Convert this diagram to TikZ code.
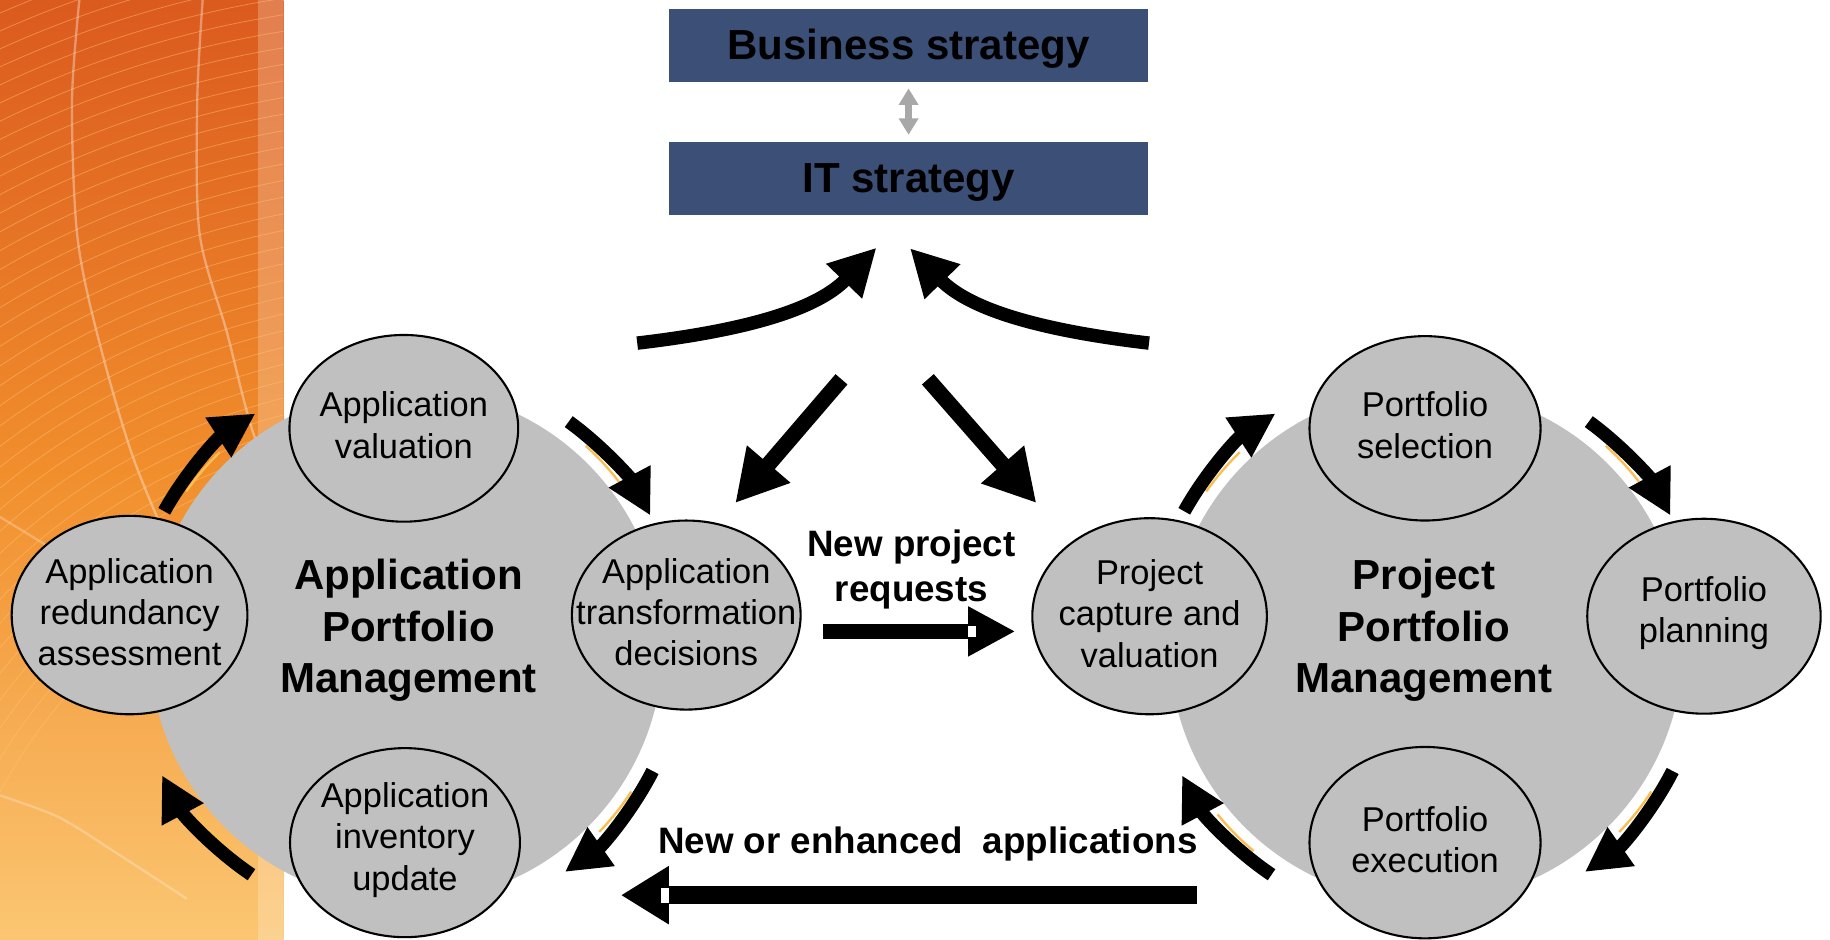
\documentclass[tikz,border=0pt]{standalone}
\usepackage{fontspec}
\setmainfont{Liberation Sans}
\usetikzlibrary{arrows.meta,shapes.geometric,calc}

\definecolor{boxblue}{RGB}{59,79,119}
\definecolor{disc}{RGB}{192,192,192}
\definecolor{linkgray}{RGB}{168,168,168}
\definecolor{orTop}{RGB}{219,90,30}
\definecolor{orMid}{RGB}{241,142,44}
\definecolor{orBot}{RGB}{251,198,114}
\definecolor{ringline}{RGB}{255,196,120}
\definecolor{sliver}{RGB}{250,190,80}

\begin{document}
\begin{tikzpicture}[x=1pt,y=-1pt,
  stratbox/.style={fill=boxblue, minimum width=411pt, minimum height=62pt, inner sep=0pt,
    text height=24pt, text depth=0pt,
    font=\fontsize{36}{42}\selectfont\bfseries},
  hub/.style={circle, fill=disc, minimum size=440pt, inner sep=0pt},
  hubtitle/.style={align=center, font=\fontsize{36}{44}\selectfont\bfseries},
  stage/.style={ellipse, draw=black, line width=1.8pt, fill=disc, inner sep=0pt},
  stagetext/.style={align=center, yshift=2.5pt, font=\fontsize{29.5}{35.5}\selectfont},
  flowlabel/.style={align=center, font=\fontsize{31.5}{39}\selectfont\bfseries},
  cyclearrow/.style={line width=11.5pt, -{Triangle[length=38pt,width=38pt]}},
  feedarrow/.style={line width=11.5pt, -{Triangle[length=40pt,width=40pt]}},
  diagarrow/.style={line width=13.5pt, -{Triangle[length=44pt,width=46pt]}},
  ringsliver/.style={sliver, line width=2pt},
  glint/.style={white, opacity=0.35, line width=2pt},
]
\useasboundingbox (0,0) rectangle (1568,805);
\fill[white] (0,0) rectangle (1568,805);

% ---- decorative orange panel on the left ----
\begin{scope}
  \clip (0,0) rectangle (243,805);
  \shade[top color=orTop, bottom color=orBot, middle color=orMid] (0,0) rectangle (243,805);
  \fill[white, opacity=0.22] (221,0) rectangle (243,805);
  \foreach \r in {430,444,...,1000}
    \draw[ringline, opacity=0.45, line width=0.7pt] (380,880) circle[radius=\r];
  \draw[glint]
    plot[smooth] coordinates {(68.5,-5) (61.7,85.7) (66,200) (83,285) (117,400) (170,515) (243,610)};
  \draw[glint]
    plot[smooth] coordinates {(174,-5) (169,86) (171,200) (194.5,285) (217,371) (250,450)};
  \draw[glint, opacity=0.25]
    plot[smooth] coordinates {(-5,440) (60,480) (150,540) (250,620)};
  \draw[glint, opacity=0.25]
    plot[smooth] coordinates {(-5,680) (50,700) (103,733) (160,770)};
\end{scope}

% ---- strategy boxes ----
\node[stratbox] (biz) at (778.5,39) {Business strategy};
\node[stratbox] (it)  at (778.5,153) {IT strategy};
\draw[linkgray, line width=6pt,
      {Triangle[length=14pt,width=16pt]}-{Triangle[length=14pt,width=16pt]},
      shorten <=5.6pt, shorten >=6.3pt] (biz.south) -- (it.north);

% ---- the two portfolio hubs ----
\node[hub] (appHub) at (348,553) {};
\node[hub] (prjHub) at (1222,553) {};
\node[hubtitle] (appTitle) at (350,540) {Application\\Portfolio\\Management};
\node[hubtitle] (prjTitle) at (1220,540) {Project\\Portfolio\\Management};

% ---- cycle arrows around each hub ----
\foreach \hubname in {appHub,prjHub}{
  % thin highlight along the inner edge of each arrow
  \draw[ringsliver] ($(\hubname)+(-145:230)$) arc[start angle=-145, end angle=-134, radius=230];
  \draw[ringsliver] ($(\hubname)+(-48:230)$)  arc[start angle=-48,  end angle=-37,  radius=230];
  \draw[ringsliver] ($(\hubname)+(33:230)$)   arc[start angle=33,   end angle=44,   radius=230];
  \draw[ringsliver] ($(\hubname)+(130:230)$)  arc[start angle=130,  end angle=141,  radius=230];
  \draw[cyclearrow] ($(\hubname)+(-151:237)$) arc[start angle=-151, end angle=-123, radius=237];
  \draw[cyclearrow] ($(\hubname)+(-54:237)$)  arc[start angle=-54,  end angle=-28,  radius=237];
  \draw[cyclearrow] ($(\hubname)+(27:237)$)   arc[start angle=27,   end angle=55,   radius=237];
  \draw[cyclearrow] ($(\hubname)+(124:237)$)  arc[start angle=124,  end angle=152,  radius=237];
}

% ---- stages of application portfolio management ----
\node[stage, minimum width=196pt, minimum height=160pt,
      label={[stagetext]center:Application\\valuation}] (appVal) at (346,367) {};
\node[stage, minimum width=202pt, minimum height=170pt,
      label={[stagetext]center:Application\\redundancy\\assessment}] (appRed) at (111,527) {};
\node[stage, minimum width=196pt, minimum height=162pt,
      label={[stagetext]center:Application\\transformation\\decisions}] (appTrans) at (588,527) {};
\node[stage, minimum width=197pt, minimum height=162pt,
      label={[stagetext]center:Application\\inventory\\update}] (appInv) at (347,722) {};

% ---- stages of project portfolio management ----
\node[stage, minimum width=198pt, minimum height=158pt,
      label={[stagetext]center:Portfolio\\selection}] (pfSel) at (1221,367) {};
\node[stage, minimum width=201pt, minimum height=168pt,
      label={[stagetext]center:Project\\capture and\\valuation}] (prjCap) at (985,528) {};
\node[stage, minimum width=200pt, minimum height=167pt,
      label={[stagetext]center:Portfolio\\planning}] (pfPlan) at (1460,528) {};
\node[stage, minimum width=198pt, minimum height=164pt,
      label={[stagetext]center:Portfolio\\execution}] (pfExec) at (1221,722) {};

% ---- feedback to the IT strategy ----
\coordinate (appFeedTail) at (546,294);
\coordinate (itInL) at ($(it.south)+(-27.5,28)$);
\coordinate (itInR) at ($(it.south)+(1.2,28.5)$);
\coordinate (prjFeedTail) at (984.5,294);
\draw[feedarrow] (appFeedTail) .. controls (640,283) and (700,265) .. (itInL);
\draw[feedarrow] (prjFeedTail) .. controls (890.5,283) and (830.5,265) .. (itInR);

% ---- IT strategy driving both portfolios ----
\coordinate (itOutL) at (721,325);
\coordinate (itOutR) at (795,325);
\coordinate (transIn) at (630,431);
\coordinate (capIn) at (888,431);
\draw[diagarrow] (itOutL) -- (transIn);
\draw[diagarrow] (itOutR) -- (capIn);

% ---- hand-over arrows between the portfolios ----
\node[flowlabel] (reqLabel) at (781,488) {New project\\requests};
\coordinate (reqTail) at (705,541);
\coordinate (reqTip) at (870,541);
\draw[line width=13pt, -{Triangle[length=40.5pt,width=40pt]}] (reqTail) -- (reqTip);
\fill[white] (829.6,536) rectangle (836.3,546);

\node[flowlabel] (appsLabel) at (795,723) {New or enhanced\ \ applications};
\coordinate (appsTail) at (1025.6,767);
\coordinate (appsTip) at (532,767);
\draw[line width=15.5pt, -{Triangle[length=41pt,width=47pt]}] (appsTail) -- (appsTip);
\fill[white] (566.5,760.5) rectangle (573,773.5);

\end{tikzpicture}
\end{document}
